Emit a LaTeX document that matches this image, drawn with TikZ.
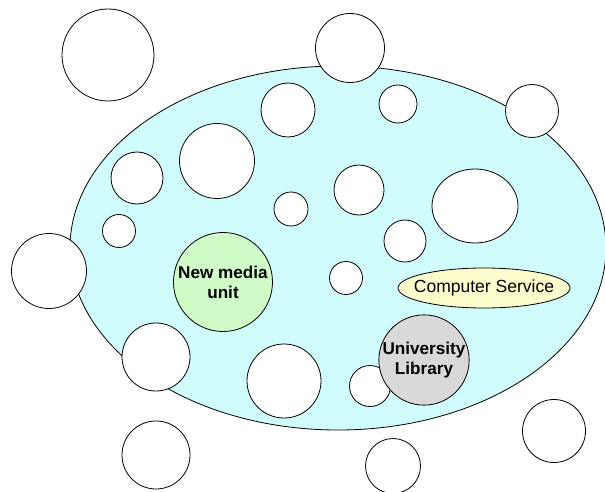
\documentclass[tikz,border=0pt]{standalone}
\usepackage{fontspec}
\setmainfont{Liberation Sans}
\usetikzlibrary{backgrounds,shapes}
\pgfdeclarelayer{edgelayer}
\pgfdeclarelayer{nodelayer}
\pgfsetlayers{edgelayer,nodelayer,main}
\definecolor{campus}{RGB}{208,252,252}
\definecolor{mediagreen}{RGB}{208,252,200}
\definecolor{serviceyellow}{RGB}{252,252,204}
\definecolor{librarygrey}{RGB}{217,217,217}
\tikzset{font=\fontsize{17.6}{19}\selectfont}
\tikzstyle{none}=[inner sep=0pt]
\tikzstyle{region}=[ellipse,draw,fill=campus,line width=0.8bp,inner sep=0pt]
\tikzstyle{blob}=[circle,draw,fill=white,line width=0.8bp,inner sep=0pt]
\tikzstyle{oval}=[ellipse,draw,fill=white,line width=0.8bp,inner sep=0pt]
\tikzstyle{unit}=[circle,draw,line width=0.8bp,inner sep=0pt,align=center,font=\fontsize{17.2}{20}\selectfont\bfseries]

\begin{document}
\begin{tikzpicture}[x=1bp,y=-1bp]
	\useasboundingbox (0,0) rectangle (605,492);
	\begin{pgfonlayer}{edgelayer}
		\node [style=region, minimum width=536bp, minimum height=364bp] (r) at (338, 248) {};
	\end{pgfonlayer}
	\begin{pgfonlayer}{nodelayer}
		\node [style=blob, minimum size=92bp] (0) at (108, 55) {};
		\node [style=blob, minimum size=69bp] (1) at (350, 48) {};
		\node [style=blob, minimum size=53bp] (2) at (532, 111) {};
		\node [style=blob, minimum size=54bp] (3) at (288, 110) {};
		\node [style=blob, minimum size=38bp] (4) at (398, 104) {};
		\node [style=blob, minimum size=52bp] (5) at (137, 178) {};
		\node [style=blob, minimum size=75bp] (6) at (217, 161) {};
		\node [style=blob, minimum size=33bp] (7) at (119, 231) {};
		\node [style=blob, minimum size=34bp] (8) at (291, 209) {};
		\node [style=blob, minimum size=50bp] (9) at (359, 190) {};
		\node [style=oval, minimum width=86bp, minimum height=74bp] (10) at (475, 206) {};
		\node [style=blob, minimum size=42bp] (11) at (405, 241) {};
		\node [style=blob, minimum size=75bp] (12) at (49, 271) {};
		\node [style=blob, minimum size=33bp] (13) at (346, 278) {};
		\node [style=blob, minimum size=68bp] (14) at (156, 357) {};
		\node [style=blob, minimum size=74bp] (15) at (284, 381) {};
		\node [style=blob, minimum size=41bp] (16) at (370, 386) {};
		\node [style=blob, minimum size=68bp] (17) at (156, 455) {};
		\node [style=blob, minimum size=55bp] (18) at (393, 466) {};
		\node [style=blob, minimum size=63bp] (19) at (554, 431) {};
		\node [style=unit, fill=mediagreen, minimum size=99bp] (media) at (223, 282) {New media\\unit};
		\node [style=oval, fill=serviceyellow, minimum width=172bp, minimum height=40bp, label={center:Computer Service}] (service) at (484, 288) {};
		\node [style=unit, fill=librarygrey, minimum size=88bp] (library) at (424, 360) {University\\Library};
	\end{pgfonlayer}
\end{tikzpicture}
\end{document}
